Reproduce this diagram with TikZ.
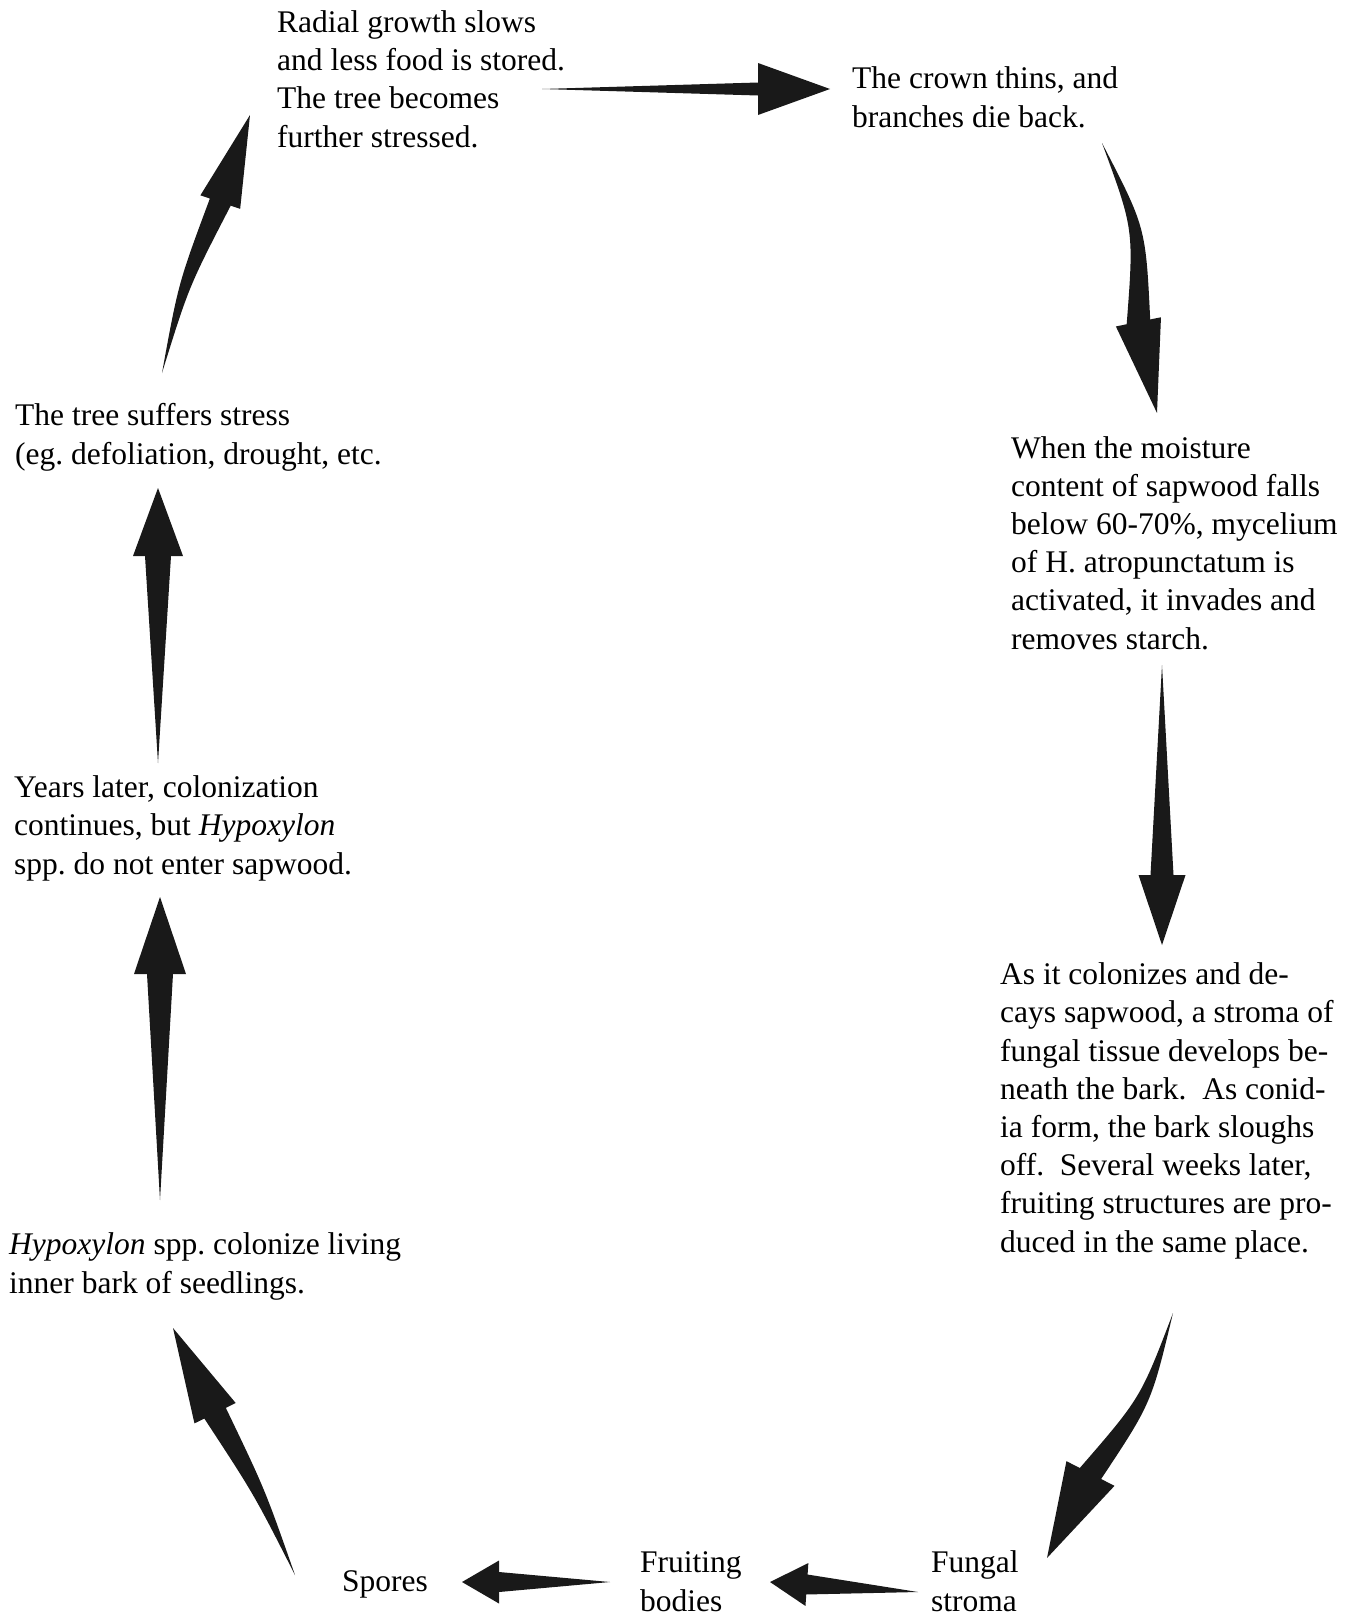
\documentclass[tikz,border=0pt]{standalone}
\usepackage{fontspec}
\setmainfont{Liberation Serif}
\usetikzlibrary{calc}
\frenchspacing

\pgfkeys{/fat/.cd,
  bend/.initial=0,
  head/.initial=70,
  tip/.initial=24,
  neck/.initial=12,
}

% tapered arrow from coordinate #2 to coordinate #3
\newcommand{\fatarrow}[3][]{%
  \begingroup
  \pgfqkeys{/fat}{#1}%
  \pgfpointdiff{\pgfpointanchor{#2}{center}}{\pgfpointanchor{#3}{center}}%
  \pgfgetlastxy{\fatdx}{\fatdy}%
  \pgfmathsetmacro\fatlen{veclen(\fatdx,\fatdy)}%
  \pgfmathsetmacro\fatang{atan2(\fatdy,\fatdx)}%
  \pgfmathsetmacro\fatbase{\fatlen-\pgfkeysvalueof{/fat/head}}%
  \pgfmathsetmacro\fatmid{0.5*\fatbase}%
  \pgfmathsetmacro\fatup{\pgfkeysvalueof{/fat/bend}+0.5*\pgfkeysvalueof{/fat/neck}}%
  \pgfmathsetmacro\fatlo{\pgfkeysvalueof{/fat/bend}-0.5*\pgfkeysvalueof{/fat/neck}}%
  \pgfmathsetmacro\fatw{\pgfkeysvalueof{/fat/neck}}%
  \pgfmathsetmacro\fatW{\pgfkeysvalueof{/fat/tip}}%
  \fill[black!90, shift={(#2)}, rotate=\fatang]
    (0pt,0pt) .. controls (\fatmid pt,\fatup pt) .. (\fatbase pt,\fatw pt)
    -- (\fatbase pt,\fatW pt) -- (\fatlen pt,0pt) -- (\fatbase pt,-\fatW pt)
    -- (\fatbase pt,-\fatw pt) .. controls (\fatmid pt,\fatlo pt) .. cycle;
  \endgroup}

\begin{document}
\begin{tikzpicture}[
    x=1pt, y=-1pt,
    stage node/.style={
      anchor=base west,
      align=left,
      inner sep=0pt,
      font=\fontsize{31.5}{38.2}\selectfont,
    },
  ]
  \useasboundingbox (0,0) rectangle (1356,1617);

  % stages of the cycle (placed at the baseline of their last line)
  \node[stage node] (radial) at (277,147) {Radial growth slows\\and less food is stored.\\The tree becomes\\further stressed.};
  \node[stage node] (crown) at (852,127) {The crown thins, and\\branches die back.};
  \node[stage node] (moisture) at (1011,649) {When the moisture\\content of sapwood falls\\below 60-70\%, mycelium\\of H. atropunctatum is\\activated, it invades and\\removes starch.};
  \node[stage node] (colonize) at (1000,1252) {As it colonizes and de-\\cays sapwood, a stroma of\\fungal tissue develops be-\\neath the bark.\ \ As conid-\\ia form, the bark sloughs\\off.\ \ Several weeks later,\\fruiting structures are pro-\\duced in the same place.};
  \node[stage node] (stroma) at (931,1611) {Fungal\\stroma};
  \node[stage node] (fruiting) at (640,1611) {Fruiting\\bodies};
  \node[stage node] (spores) at (342,1591) {Spores};
  \node[stage node] (seedlings) at (9,1293) {\textit{Hypoxylon} spp. colonize living\\inner bark of seedlings.};
  \node[stage node] (years) at (14,874) {Years later, colonization\\continues, but \textit{Hypoxylon}\\spp. do not enter sapwood.};
  \node[stage node] (stress) at (15,464) {The tree suffers stress\\(eg. defoliation, drought, etc.};

  % arrow ends
  \coordinate (radial-out)    at (542,89);
  \coordinate (crown-in)      at (830,89);
  \coordinate (crown-out)     at (1102,143);
  \coordinate (moisture-in)   at (1157,413);
  \coordinate (moisture-out)  at (1162,665);
  \coordinate (colonize-in)   at (1162,945);
  \coordinate (colonize-out)  at (1173,1313);
  \coordinate (stroma-in)     at (1047,1558);
  \coordinate (stroma-out)    at (918,1592);
  \coordinate (fruiting-in)   at (770,1582);
  \coordinate (fruiting-out)  at (610,1582);
  \coordinate (spores-in)     at (462,1582);
  \coordinate (spores-out)    at (295,1575);
  \coordinate (seedlings-in)  at (173,1328);
  \coordinate (seedlings-out) at (160,1200);
  \coordinate (years-in)      at (160,897);
  \coordinate (years-out)     at (158,763);
  \coordinate (stress-in)     at (158,488);
  \coordinate (stress-out)    at (162,373);
  \coordinate (radial-in)     at (250,115);

  \fatarrow[head=72,tip=26,neck=6.5]{radial-out}{crown-in}
  \fatarrow[head=93,tip=23,neck=12,bend=20]{crown-out}{moisture-in}
  \fatarrow[head=70,tip=23.5,neck=11.5]{moisture-out}{colonize-in}
  \fatarrow[head=95,tip=27,neck=12,bend=16]{colonize-out}{stroma-in}
  \fatarrow[head=37,tip=21.5,neck=10]{stroma-out}{fruiting-in}
  \fatarrow[head=37,tip=21.5,neck=10]{fruiting-out}{spores-in}
  \fatarrow[head=95,tip=23,neck=12,bend=-5]{spores-out}{seedlings-in}
  \fatarrow[head=77,tip=26,neck=13]{seedlings-out}{years-in}
  \fatarrow[head=68,tip=25,neck=13]{years-out}{stress-in}
  \fatarrow[head=92,tip=21,neck=11,bend=8]{stress-out}{radial-in}
\end{tikzpicture}
\end{document}
